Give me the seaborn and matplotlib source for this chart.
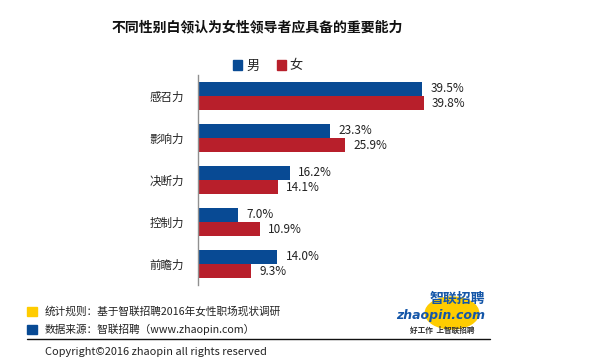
import pandas as pd
import numpy as np
import matplotlib
matplotlib.use("Agg")
import matplotlib.pyplot as plt
from matplotlib.patches import Rectangle, Circle
from matplotlib.lines import Line2D
import seaborn as sns

# data
abilities = ["感召力", "影响力", "决断力", "控制力", "前瞻力"]
male = [39.5, 23.3, 16.2, 7.0, 14.0]
female = [39.8, 25.9, 14.1, 10.9, 9.3]
genders = ["男", "女"]

title = "不同性别白领认为女性领导者应具备的重要能力"
note_rule = "统计规则：基于智联招聘2016年女性职场现状调研"
note_src = "数据来源：智联招聘（www.zhaopin.com）"
copyright_txt = "Copyright©2016 zhaopin all rights reserved"

BLUE = "#084A94"
RED = "#B81F2B"
YELLOW = "#FFCC00"

sns.set_style("white")
plt.rcParams["font.family"] = ["Noto Sans CJK SC", "DejaVu Sans"]

df = pd.DataFrame({
    "能力": abilities * 2,
    "值": male + female,
    "性别": [genders[0]] * len(abilities) + [genders[1]] * len(abilities),
})

W, H = 603, 361
fig = plt.figure(figsize=(W / 100, H / 100), dpi=100)
xmax = 50
ax = fig.add_axes([198 / W, 1 - 285 / H, (xmax * 5.67) / W, 210 / H])

sns.barplot(data=df, y="能力", x="值", hue="性别", palette=[BLUE, RED],
            orient="h", width=0.667, order=abilities, hue_order=genders,
            saturation=1, linewidth=0, legend=False, ax=ax)

for cont in ax.containers:
    ax.bar_label(cont, fmt="%.1f%%", padding=6, fontsize=8.5, color="#222222")

ax.set_xlim(0, xmax)
ax.set_ylim(4.5, -0.5)
ax.set_xlabel("")
ax.set_ylabel("")
ax.set_xticks([])
ax.tick_params(axis="y", length=0, pad=10, labelsize=8.3, labelcolor="#222222")
for s in ["top", "right", "bottom"]:
    ax.spines[s].set_visible(False)
ax.spines["left"].set_color("#909090")
ax.spines["left"].set_linewidth(1)

# legend
handles = [Rectangle((0, 0), 1, 1, color=BLUE), Rectangle((0, 0), 1, 1, color=RED)]
fig.legend(handles, genders, loc="center", bbox_to_anchor=(268 / W, 1 - 66 / H),
           ncol=2, frameon=False, handlelength=0.7, handleheight=0.7,
           handletextpad=0.3, columnspacing=1.3, fontsize=9.5)

# title
fig.text(257 / W, 1 - 27 / H, title, ha="center", va="center",
         fontsize=10, fontweight="bold", color="#111111")

# footer notes
fig.patches.append(Rectangle((27 / W, 1 - 316 / H), 10 / W, 9 / H,
                             transform=fig.transFigure, color=YELLOW))
fig.patches.append(Rectangle((27 / W, 1 - 334 / H), 10 / W, 9 / H,
                             transform=fig.transFigure, color=BLUE))
fig.text(45 / W, 1 - 311 / H, note_rule, ha="left", va="center", fontsize=7.7, color="#222222")
fig.text(45 / W, 1 - 329 / H, note_src, ha="left", va="center", fontsize=7.7, color="#222222")
fig.lines.append(Line2D([27 / W, 490 / W], [1 - 339 / H, 1 - 339 / H],
                        transform=fig.transFigure, color="#111111", linewidth=1))
fig.text(45 / W, 1 - 352 / H, copyright_txt, ha="left", va="center", fontsize=7.9, color="#222222")

# logo
fig.patches.append(Circle((452 / W, 1 - 313 / H), 16 / H, transform=fig.transFigure,
                          color=YELLOW, zorder=0))
fig.text(485 / W, 1 - 299 / H, "智联招聘", ha="right", va="center", fontsize=10,
         fontweight="bold", style="italic", color="#1456A8")
fig.text(485 / W, 1 - 315 / H, "zhaopin.com", ha="right", va="center", fontsize=9,
         fontweight="bold", style="italic", color="#1456A8", family="DejaVu Sans")
fig.text(475 / W, 1 - 330 / H, "好工作  上智联招聘", ha="right", va="center", fontsize=5.5,
         fontweight="bold", style="italic", color="#333333")

fig.savefig("out.png", dpi=100, facecolor="white")
